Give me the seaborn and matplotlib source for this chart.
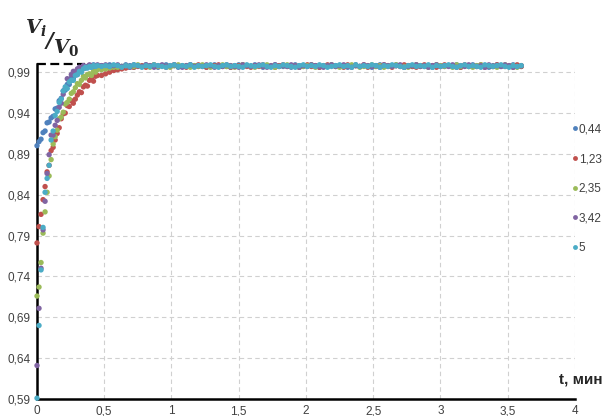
import numpy as np
import pandas as pd
import matplotlib
matplotlib.use("Agg")
import matplotlib.pyplot as plt
import seaborn as sns
from matplotlib.lines import Line2D

# ---------------- data ----------------
t_rise = [0.000, 0.015, 0.030, 0.045, 0.060, 0.075, 0.090, 0.105, 0.120, 0.135,
          0.150, 0.165, 0.180, 0.195, 0.210, 0.225, 0.240, 0.255, 0.270, 0.285,
          0.300, 0.315, 0.330, 0.345, 0.360, 0.375, 0.390, 0.405, 0.420, 0.435, 0.450]
t_plateau = [0.48, 0.51, 0.54, 0.57, 0.60, 0.63, 0.66, 0.69, 0.72, 0.75,
             0.78, 0.81, 0.84, 0.87, 0.90, 0.93, 0.96, 0.99, 1.02, 1.05,
             1.08, 1.11, 1.14, 1.17, 1.20, 1.23, 1.26, 1.29, 1.32, 1.35,
             1.38, 1.41, 1.44, 1.47, 1.50, 1.53, 1.56, 1.59, 1.62, 1.65,
             1.68, 1.71, 1.74, 1.77, 1.80, 1.83, 1.86, 1.89, 1.92, 1.95,
             1.98, 2.01, 2.04, 2.07, 2.10, 2.13, 2.16, 2.19, 2.22, 2.25,
             2.28, 2.31, 2.34, 2.37, 2.40, 2.43, 2.46, 2.49, 2.52, 2.55,
             2.58, 2.61, 2.64, 2.67, 2.70, 2.73, 2.76, 2.79, 2.82, 2.85,
             2.88, 2.91, 2.94, 2.97, 3.00, 3.03, 3.06, 3.09, 3.12, 3.15,
             3.18, 3.21, 3.24, 3.27, 3.30, 3.33, 3.36, 3.39, 3.42, 3.45,
             3.48, 3.51, 3.54, 3.57, 3.60]

series_names = ["0,44", "1,23", "2,35", "3,42", "5"]

v044_rise = [0.900, 0.905, 0.908, 0.916, 0.918, 0.928, 0.929, 0.934, 0.936, 0.945,
             0.946, 0.955, 0.958, 0.967, 0.968, 0.975, 0.975, 0.983, 0.982, 0.988,
             0.987, 0.993, 0.992, 0.997, 0.995, 0.997, 0.998, 0.996, 0.999, 0.997, 0.998]
v044_plateau = [0.998, 0.997, 0.999, 0.996, 0.998, 0.997, 0.999, 0.998, 0.996, 0.998,
                0.997, 0.999, 0.998, 0.997, 0.996, 0.998, 0.999, 0.997, 0.998, 0.996,
                0.998, 0.997, 0.999, 0.998, 0.997, 0.998, 0.996, 0.998, 0.999, 0.997,
                0.998, 0.997, 0.996, 0.998, 0.999, 0.997, 0.998, 0.997, 0.999, 0.998,
                0.996, 0.998, 0.997, 0.999, 0.998, 0.997, 0.998, 0.996, 0.999, 0.998,
                0.997, 0.998, 0.999, 0.997, 0.996, 0.998, 0.997, 0.999, 0.998, 0.997,
                0.998, 0.996, 0.998, 0.999, 0.997, 0.998, 0.997, 0.996, 0.998, 0.999,
                0.997, 0.998, 0.997, 0.999, 0.998, 0.996, 0.998, 0.997, 0.999, 0.998,
                0.997, 0.998, 0.996, 0.999, 0.998, 0.997, 0.998, 0.997, 0.999, 0.996,
                0.998, 0.997, 0.999, 0.998, 0.997, 0.998, 0.996, 0.998, 0.999, 0.997,
                0.998, 0.997, 0.999, 0.998, 0.997]

v123_rise = [0.781, 0.801, 0.816, 0.834, 0.850, 0.868, 0.876, 0.894, 0.898, 0.907,
             0.915, 0.922, 0.933, 0.939, 0.940, 0.949, 0.948, 0.955, 0.952, 0.957,
             0.962, 0.966, 0.965, 0.972, 0.974, 0.973, 0.980, 0.982, 0.979, 0.985, 0.986]
v123_plateau = [0.986, 0.988, 0.990, 0.992, 0.993, 0.994, 0.995, 0.996, 0.996, 0.997,
                0.998, 0.996, 0.997, 0.999, 0.997, 0.998, 0.996, 0.997, 0.999, 0.998,
                0.997, 0.996, 0.998, 0.997, 0.999, 0.998, 0.996, 0.997, 0.998, 0.999,
                0.997, 0.998, 0.996, 0.997, 0.998, 0.999, 0.997, 0.996, 0.998, 0.997,
                0.999, 0.998, 0.997, 0.996, 0.998, 0.999, 0.997, 0.998, 0.997, 0.996,
                0.998, 0.999, 0.997, 0.998, 0.996, 0.997, 0.999, 0.998, 0.997, 0.998,
                0.996, 0.999, 0.997, 0.998, 0.997, 0.999, 0.996, 0.998, 0.997, 0.998,
                0.999, 0.997, 0.996, 0.998, 0.997, 0.999, 0.998, 0.997, 0.996, 0.998,
                0.999, 0.997, 0.998, 0.996, 0.997, 0.999, 0.998, 0.997, 0.998, 0.996,
                0.999, 0.997, 0.998, 0.997, 0.999, 0.996, 0.998, 0.997, 0.999, 0.998,
                0.997, 0.998, 0.996, 0.999, 0.997]

v235_rise = [0.716, 0.727, 0.757, 0.793, 0.819, 0.843, 0.863, 0.883, 0.902, 0.911,
             0.919, 0.933, 0.935, 0.941, 0.951, 0.953, 0.957, 0.964, 0.966, 0.971,
             0.976, 0.975, 0.980, 0.985, 0.983, 0.987, 0.988, 0.986, 0.991, 0.990, 0.993]
v235_plateau = [0.993, 0.994, 0.995, 0.996, 0.996, 0.997, 0.998, 0.996, 0.997, 0.999,
                0.997, 0.998, 0.996, 0.999, 0.997, 0.998, 0.997, 0.996, 0.998, 0.999,
                0.997, 0.998, 0.996, 0.998, 0.997, 0.999, 0.998, 0.996, 0.997, 0.998,
                0.999, 0.997, 0.998, 0.996, 0.997, 0.999, 0.998, 0.997, 0.996, 0.998,
                0.997, 0.999, 0.998, 0.996, 0.997, 0.998, 0.999, 0.997, 0.998, 0.996,
                0.997, 0.998, 0.999, 0.996, 0.998, 0.997, 0.998, 0.999, 0.997, 0.996,
                0.998, 0.997, 0.999, 0.998, 0.996, 0.997, 0.998, 0.999, 0.997, 0.998,
                0.996, 0.998, 0.997, 0.999, 0.998, 0.997, 0.996, 0.998, 0.999, 0.997,
                0.998, 0.996, 0.997, 0.999, 0.998, 0.997, 0.998, 0.996, 0.999, 0.997,
                0.998, 0.997, 0.996, 0.998, 0.999, 0.997, 0.998, 0.997, 0.996, 0.998,
                0.999, 0.997, 0.998, 0.996, 0.998]

v342_rise = [0.631, 0.701, 0.750, 0.797, 0.832, 0.866, 0.889, 0.913, 0.913, 0.925,
             0.931, 0.947, 0.952, 0.963, 0.970, 0.982, 0.980, 0.987, 0.991, 0.989,
             0.994, 0.996, 0.993, 0.998, 0.997, 0.996, 0.999, 0.998, 0.997, 0.998, 0.999]
v342_plateau = [0.998, 0.999, 0.997, 0.998, 0.999, 0.997, 0.998, 0.996, 0.999, 0.998,
                0.997, 0.999, 0.998, 0.996, 0.998, 0.999, 0.997, 0.998, 0.999, 0.997,
                0.996, 0.998, 0.999, 0.997, 0.998, 0.997, 0.999, 0.998, 0.996, 0.998,
                0.997, 0.999, 0.998, 0.997, 0.996, 0.999, 0.998, 0.997, 0.998, 0.999,
                0.997, 0.996, 0.998, 0.999, 0.997, 0.998, 0.997, 0.999, 0.998, 0.996,
                0.998, 0.997, 0.999, 0.998, 0.997, 0.996, 0.998, 0.999, 0.997, 0.998,
                0.999, 0.997, 0.996, 0.998, 0.997, 0.999, 0.998, 0.997, 0.998, 0.996,
                0.999, 0.998, 0.997, 0.998, 0.999, 0.996, 0.997, 0.998, 0.999, 0.997,
                0.998, 0.996, 0.998, 0.999, 0.997, 0.998, 0.997, 0.999, 0.996, 0.998,
                0.997, 0.999, 0.998, 0.997, 0.998, 0.996, 0.999, 0.997, 0.998, 0.997,
                0.999, 0.998, 0.996, 0.997, 0.998]

v5_rise = [0.591, 0.680, 0.748, 0.800, 0.843, 0.860, 0.876, 0.907, 0.918, 0.937,
           0.942, 0.953, 0.957, 0.967, 0.972, 0.970, 0.978, 0.980, 0.980, 0.986,
           0.987, 0.991, 0.990, 0.994, 0.996, 0.995, 0.997, 0.996, 0.998, 0.997, 0.998]
v5_plateau = [0.997, 0.998, 0.997, 0.999, 0.998, 0.996, 0.998, 0.997, 0.999, 0.998,
              0.996, 0.998, 0.997, 0.999, 0.998, 0.997, 0.996, 0.998, 0.999, 0.997,
              0.998, 0.997, 0.999, 0.996, 0.998, 0.997, 0.998, 0.999, 0.997, 0.996,
              0.998, 0.999, 0.997, 0.998, 0.997, 0.996, 0.999, 0.998, 0.997, 0.998,
              0.999, 0.997, 0.996, 0.998, 0.997, 0.999, 0.998, 0.997, 0.996, 0.998,
              0.999, 0.997, 0.998, 0.997, 0.999, 0.998, 0.996, 0.997, 0.998, 0.999,
              0.997, 0.998, 0.996, 0.999, 0.997, 0.998, 0.997, 0.999, 0.998, 0.996,
              0.998, 0.997, 0.999, 0.998, 0.997, 0.996, 0.998, 0.999, 0.997, 0.998,
              0.997, 0.999, 0.996, 0.998, 0.997, 0.998, 0.999, 0.997, 0.996, 0.998,
              0.999, 0.997, 0.998, 0.997, 0.996, 0.999, 0.998, 0.997, 0.998, 0.999,
              0.997, 0.996, 0.998, 0.997, 0.998]

y_ticks = [0.59, 0.64, 0.69, 0.74, 0.79, 0.84, 0.89, 0.94, 0.99]
y_tick_labels = ["0,59", "0,64", "0,69", "0,74", "0,79", "0,84", "0,89", "0,94", "0,99"]
x_ticks = [0, 0.5, 1, 1.5, 2, 2.5, 3, 3.5, 4]
x_tick_labels = ["0", "0,5", "1", "1,5", "2", "2,5", "3", "3,5", "4"]

colors = ["#4F81BD", "#C0504D", "#9BBB59", "#8064A2", "#4BACC6"]

# ---------------- build frame ----------------
all_rise = [v044_rise, v123_rise, v235_rise, v342_rise, v5_rise]
all_plat = [v044_plateau, v123_plateau, v235_plateau, v342_plateau, v5_plateau]
frames = []
for name, r, p in zip(series_names, all_rise, all_plat):
    frames.append(pd.DataFrame({"t": t_rise + t_plateau, "v": r + p, "s": name}))
df = pd.concat(frames, ignore_index=True)

# ---------------- plot ----------------
sns.set_style("white")
plt.rcParams["font.family"] = ["Liberation Sans", "DejaVu Sans"]
plt.rcParams["mathtext.fontset"] = "custom"
plt.rcParams["mathtext.it"] = "DejaVu Serif:italic:bold"
plt.rcParams["mathtext.rm"] = "DejaVu Serif:bold"
plt.rcParams["mathtext.bf"] = "DejaVu Serif:bold"

fig = plt.figure(figsize=(6.07, 4.16), dpi=100)
ax = fig.add_axes([37 / 607, 1 - 399 / 416, (575 - 37) / 607, (399 - 64) / 416])

sns.scatterplot(data=df, x="t", y="v", hue="s", palette=colors, s=15,
                linewidth=0, ax=ax, legend=False, clip_on=False, zorder=3)

ax.set_xlim(0, 4)
ax.set_ylim(0.59, 1.0)
ax.set_xticks(x_ticks)
ax.set_xticklabels(x_tick_labels)
ax.set_yticks(y_ticks)
ax.set_yticklabels(y_tick_labels)
ax.set_xlabel("")
ax.set_ylabel("")

ax.grid(True, color="#d0d0d0", linestyle=(0, (4, 3)), linewidth=0.8)
ax.set_axisbelow(True)
for sp in ["top", "right"]:
    ax.spines[sp].set_visible(False)
for sp in ["left", "bottom"]:
    ax.spines[sp].set_color("black")
    ax.spines[sp].set_linewidth(1.8)

ax.tick_params(axis="both", direction="inout", length=5, width=1.2, color="black",
               labelsize=8.5, labelcolor="#404040", pad=2)
ax.tick_params(axis="x", pad=2)

# dashed reference at top
ax.plot([0, 0.36], [1.0, 1.0], color="black", linestyle=(0, (4, 2)), linewidth=1.6,
        clip_on=False, zorder=2)

# legend
handles = [Line2D([0], [0], marker="o", linestyle="", markersize=3.5,
                  markerfacecolor=c, markeredgewidth=0) for c in colors]
ax.legend(handles, series_names, loc="upper left", bbox_to_anchor=(0.995, 0.823),
          frameon=False, handlelength=0.4, handletextpad=0.15, labelspacing=1.5,
          borderpad=0, borderaxespad=0, fontsize=8.5, labelcolor="#404040")

# axis titles
fig.text(25 / 607, 1 - 33 / 416, r"$V_i$", fontsize=14, ha="left", va="baseline")
fig.text(46 / 607, 1 - 47 / 416, "/", fontsize=15, ha="left", va="baseline",
         family="DejaVu Serif", style="italic", weight="bold")
fig.text(53 / 607, 1 - 53 / 416, r"$V_0$", fontsize=14, ha="left", va="baseline")
fig.text(559 / 607, 1 - 383 / 416, "t, мин", fontsize=11, fontweight="bold",
         family="Liberation Sans", ha="left", va="baseline")

fig.savefig("out.png", dpi=100)
